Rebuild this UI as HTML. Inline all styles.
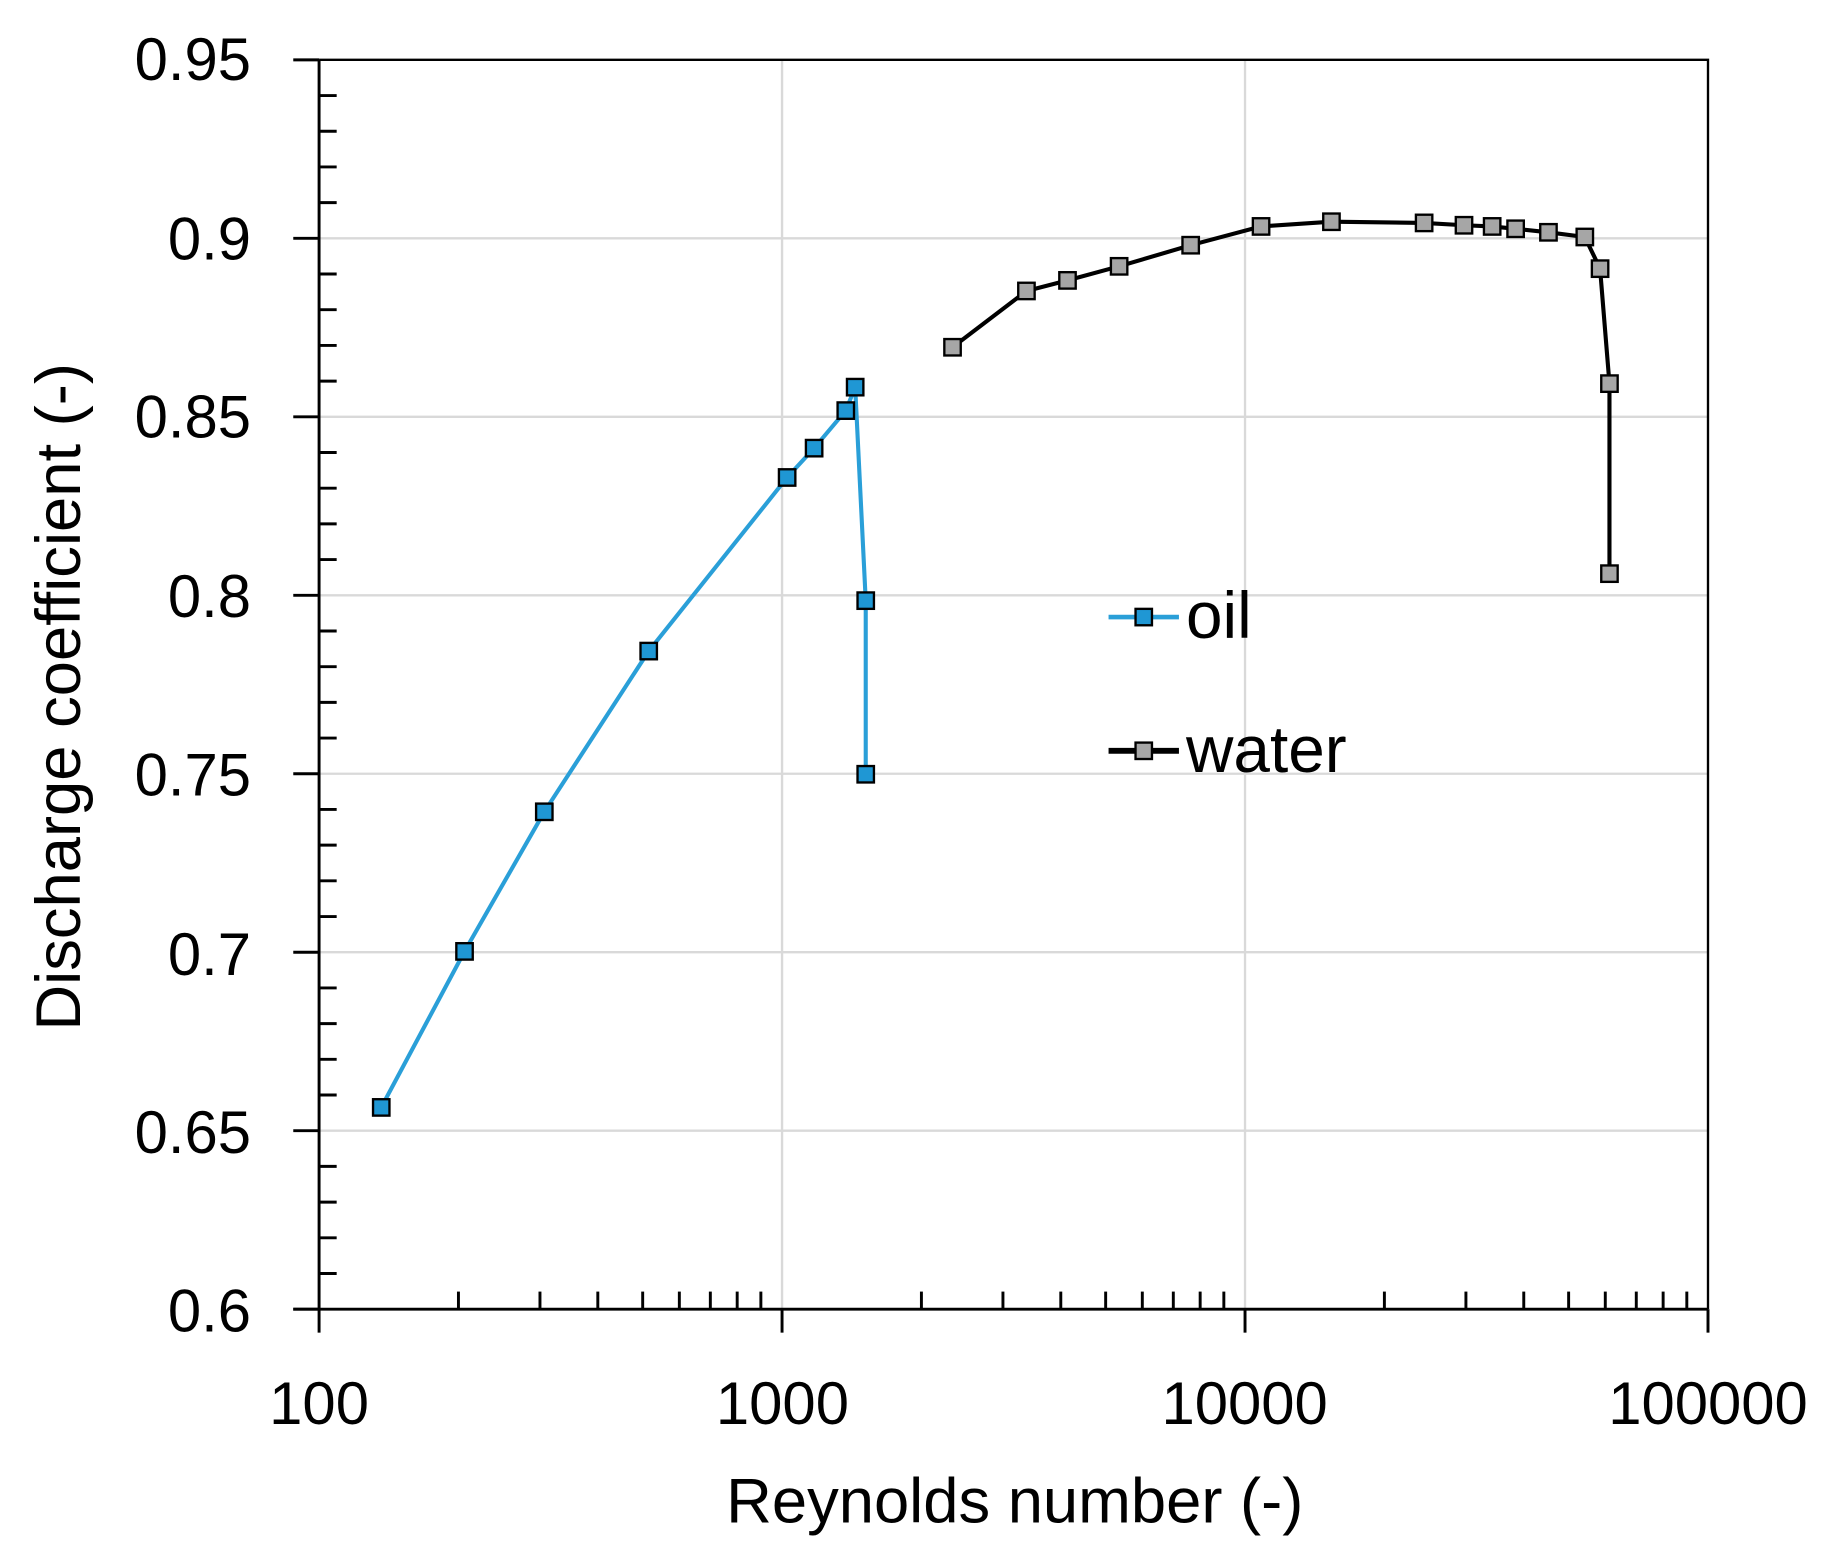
<!DOCTYPE html>
<html><head><meta charset="utf-8"><style>
html,body{margin:0;padding:0;background:#fff;}
svg{display:block;}
text{font-family:"Liberation Sans",sans-serif;fill:#000;}
</style></head><body>
<svg id="s" width="1830" height="1545" viewBox="0 0 1560 1317" xmlns="http://www.w3.org/2000/svg">
<rect width="1560" height="1317" fill="#fff"/>
<g id="grid" stroke="#d9d9d9" stroke-width="2"></g>
<g id="ax" stroke="#000" stroke-width="2.5" fill="none"></g>
<g font-size="51" text-anchor="end">
<text x="214" y="68">0.95</text>
<text x="214" y="221">0.9</text>
<text x="214" y="373">0.85</text>
<text x="214" y="526">0.8</text>
<text x="214" y="678">0.75</text>
<text x="214" y="831">0.7</text>
<text x="214" y="983">0.65</text>
<text x="214" y="1135">0.6</text>
</g>
<g font-size="51" text-anchor="middle">
<text x="272" y="1214">100</text>
<text x="667" y="1214">1000</text>
<text x="1061" y="1214">10000</text>
<text x="1456" y="1214">100000</text>
</g>
<g font-size="54" text-anchor="middle">
<text x="865" y="1298">Reynolds number (-)</text>
<text transform="translate(68,594) rotate(-90)">Discharge coefficient (-)</text>
</g>
<polyline fill="none" stroke="#2a9fd8" stroke-width="3.5" points="325,944 396,811 464,692 553,555 671,407 694,382 721,350 729,330 738,512 738,660"/>
<polyline fill="none" stroke="#000" stroke-width="3.5" points="812,296 875,248 910,239 954,227 1015,209 1075,193 1135,189 1214,190 1248,192 1272,193 1292,195 1320,198 1351,202 1364,229 1372,327 1372,489"/>
<g id="m"></g>
<line x1="945" y1="526" x2="1005" y2="526" stroke="#2a9fd8" stroke-width="4"/>
<rect x="968" y="519" width="14" height="14" fill="#1f97d4" stroke="#000" stroke-width="2"/>
<text x="1011" y="544" font-size="56">oil</text>
<line x1="945" y1="640" x2="1005" y2="640" stroke="#000" stroke-width="5"/>
<rect x="968" y="633" width="14" height="14" fill="#a6a6a6" stroke="#000" stroke-width="2"/>
<text x="1011" y="658" font-size="56">water</text>
</svg>
<script>
var NS="http://www.w3.org/2000/svg";
function L(g,x1,y1,x2,y2){var l=document.createElementNS(NS,"line");l.setAttribute("x1",x1);l.setAttribute("y1",y1);l.setAttribute("x2",x2);l.setAttribute("y2",y2);document.getElementById(g).appendChild(l);}
var X0=272,X1=1456,Y0=1116,Y1=51,D=(X1-X0)/3;
for(var i=1;i<7;i++){var y=Y0-(Y0-Y1)*i/7;L("grid",X0,y,X1,y);}
for(var i=1;i<3;i++){var x=X0+D*i;L("grid",x,Y1,x,Y0);}
var ax=document.getElementById("ax");
var r=document.createElementNS(NS,"polyline");r.setAttribute("points",X0+","+Y1+" "+X1+","+Y1+" "+X1+","+Y0);r.setAttribute("stroke-width","2");ax.appendChild(r);
L("ax",X0,Y1,X0,Y0);L("ax",250,Y0,X1,Y0);
for(var i=0;i<=35;i++){var y=Y0-(Y0-Y1)*i/35;if(i%5==0)L("ax",250,y,X0,y);else L("ax",X0,y,X0+15,y);}
for(var d=0;d<3;d++){for(var k=2;k<10;k++){var x=X0+D*(d+Math.log10(k));L("ax",x,Y0,x,Y0-15);}}
for(var d=0;d<=3;d++){var x=X0+D*d;L("ax",x,Y0,x,Y0+20);}
function pts(p,f){p.split(" ").forEach(function(s){var a=s.split(",");var q=document.createElementNS(NS,"rect");q.setAttribute("x",a[0]-7);q.setAttribute("y",a[1]-7);q.setAttribute("width",14);q.setAttribute("height",14);q.setAttribute("fill",f);q.setAttribute("stroke","#000");q.setAttribute("stroke-width","2");document.getElementById("m").appendChild(q);});}
pts("325,944 396,811 464,692 553,555 671,407 694,382 721,350 729,330 738,512 738,660","#1f97d4");
pts("812,296 875,248 910,239 954,227 1015,209 1075,193 1135,189 1214,190 1248,192 1272,193 1292,195 1320,198 1351,202 1364,229 1372,327 1372,489","#a6a6a6");
</script>
</body></html>
